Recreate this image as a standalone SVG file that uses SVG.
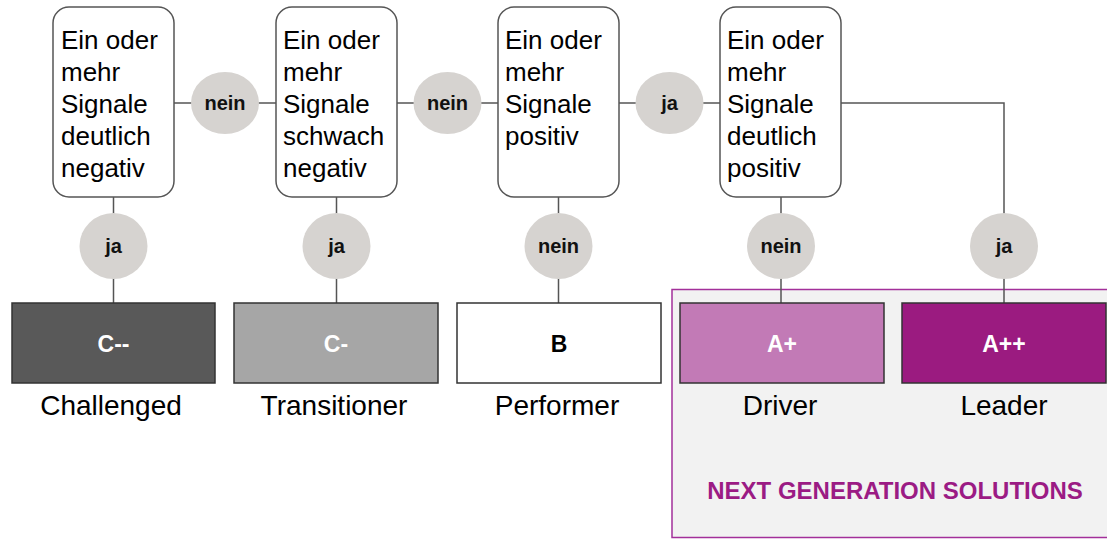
<svg xmlns="http://www.w3.org/2000/svg" width="1107" height="539" viewBox="0 0 1107 539">
<style>
.dec{fill:#fff;stroke:#555;stroke-width:1.5}
.bub{fill:#d6d3d0}
.bt{font-family:"Liberation Sans",Arial,sans-serif;font-size:26px;fill:#000}
.bl{font-family:"Liberation Sans",Arial,sans-serif;font-size:20px;font-weight:bold;fill:#111;text-anchor:middle}
.res{stroke:#333;stroke-width:1.5}
.rl{font-family:"Liberation Sans",Arial,sans-serif;font-size:23px;font-weight:bold;fill:#fff;text-anchor:middle}
.lab{font-family:"Liberation Sans",Arial,sans-serif;font-size:28px;fill:#000;text-anchor:middle}
.con{fill:none;stroke:#555;stroke-width:1.5}
</style>
<g id="ngs">
<rect x="672" y="289.5" width="445" height="248" fill="#f2f2f2" stroke="#a3309a" stroke-width="1.5"/>
<text x="895" y="499" font-family="Liberation Sans,Arial,sans-serif" font-size="24" font-weight="bold" fill="#9b1b84" text-anchor="middle">NEXT GENERATION SOLUTIONS</text>
</g>
<g id="connectors">
<path class="con" d="M174,103H276M397,103H498M619,103H720M841,103H1004V303"/>
<path class="con" d="M113.5,197V303M336.5,197V303M558.5,197V303M781,197V303"/>
</g>
<g id="d1"><rect class="dec" x="53" y="7" width="121" height="190" rx="16"/>
<text class="bt"><tspan x="61" y="49">Ein oder</tspan><tspan x="61" y="81">mehr</tspan><tspan x="61" y="113">Signale</tspan><tspan x="61" y="145">deutlich</tspan><tspan x="61" y="177">negativ</tspan></text></g>
<g id="d2"><rect class="dec" x="276" y="7" width="121" height="190" rx="16"/>
<text class="bt"><tspan x="283" y="49">Ein oder</tspan><tspan x="283" y="81">mehr</tspan><tspan x="283" y="113">Signale</tspan><tspan x="283" y="145">schwach</tspan><tspan x="283" y="177">negativ</tspan></text></g>
<g id="d3"><rect class="dec" x="498" y="7" width="121" height="190" rx="16"/>
<text class="bt"><tspan x="505" y="49">Ein oder</tspan><tspan x="505" y="81">mehr</tspan><tspan x="505" y="113">Signale</tspan><tspan x="505" y="145">positiv</tspan></text></g>
<g id="d4"><rect class="dec" x="720" y="7" width="121" height="190" rx="16"/>
<text class="bt"><tspan x="727" y="49">Ein oder</tspan><tspan x="727" y="81">mehr</tspan><tspan x="727" y="113">Signale</tspan><tspan x="727" y="145">deutlich</tspan><tspan x="727" y="177">positiv</tspan></text></g>
<g id="b1"><ellipse class="bub" cx="225" cy="103" rx="34" ry="31"/><text class="bl" x="225" y="110">nein</text></g>
<g id="b2"><ellipse class="bub" cx="447.5" cy="103" rx="34" ry="31"/><text class="bl" x="447.5" y="110">nein</text></g>
<g id="b3"><ellipse class="bub" cx="669.5" cy="103" rx="34" ry="31"/><text class="bl" x="669.5" y="110">ja</text></g>
<g id="b4"><ellipse class="bub" cx="113.5" cy="246" rx="34" ry="33"/><text class="bl" x="113.5" y="253">ja</text></g>
<g id="b5"><ellipse class="bub" cx="336.5" cy="246" rx="34" ry="33"/><text class="bl" x="336.5" y="253">ja</text></g>
<g id="b6"><ellipse class="bub" cx="558.5" cy="246" rx="34" ry="33"/><text class="bl" x="558.5" y="253">nein</text></g>
<g id="b7"><ellipse class="bub" cx="781" cy="246" rx="34" ry="33"/><text class="bl" x="781" y="253">nein</text></g>
<g id="b8"><ellipse class="bub" cx="1004" cy="246" rx="34" ry="33"/><text class="bl" x="1004" y="253">ja</text></g>
<g id="r1"><rect class="res" x="12" y="303" width="203" height="80" fill="#595959"/><text class="rl" x="113.5" y="352">C--</text><text class="lab" x="111" y="415">Challenged</text></g>
<g id="r2"><rect class="res" x="234" y="303" width="204" height="80" fill="#a6a6a6"/><text class="rl" x="336" y="352">C-</text><text class="lab" x="334" y="415">Transitioner</text></g>
<g id="r3"><rect class="res" x="457" y="303" width="204" height="80" fill="#ffffff"/><text class="rl" style="fill:#000" x="559" y="352">B</text><text class="lab" x="557" y="415">Performer</text></g>
<g id="r4"><rect class="res" x="680" y="303" width="204" height="80" fill="#c27ab6"/><text class="rl" x="782" y="352">A+</text><text class="lab" x="780" y="415">Driver</text></g>
<g id="r5"><rect class="res" x="902" y="303" width="204" height="80" fill="#9b1b80"/><text class="rl" x="1004" y="352">A++</text><text class="lab" x="1004" y="415">Leader</text></g>
</svg>
